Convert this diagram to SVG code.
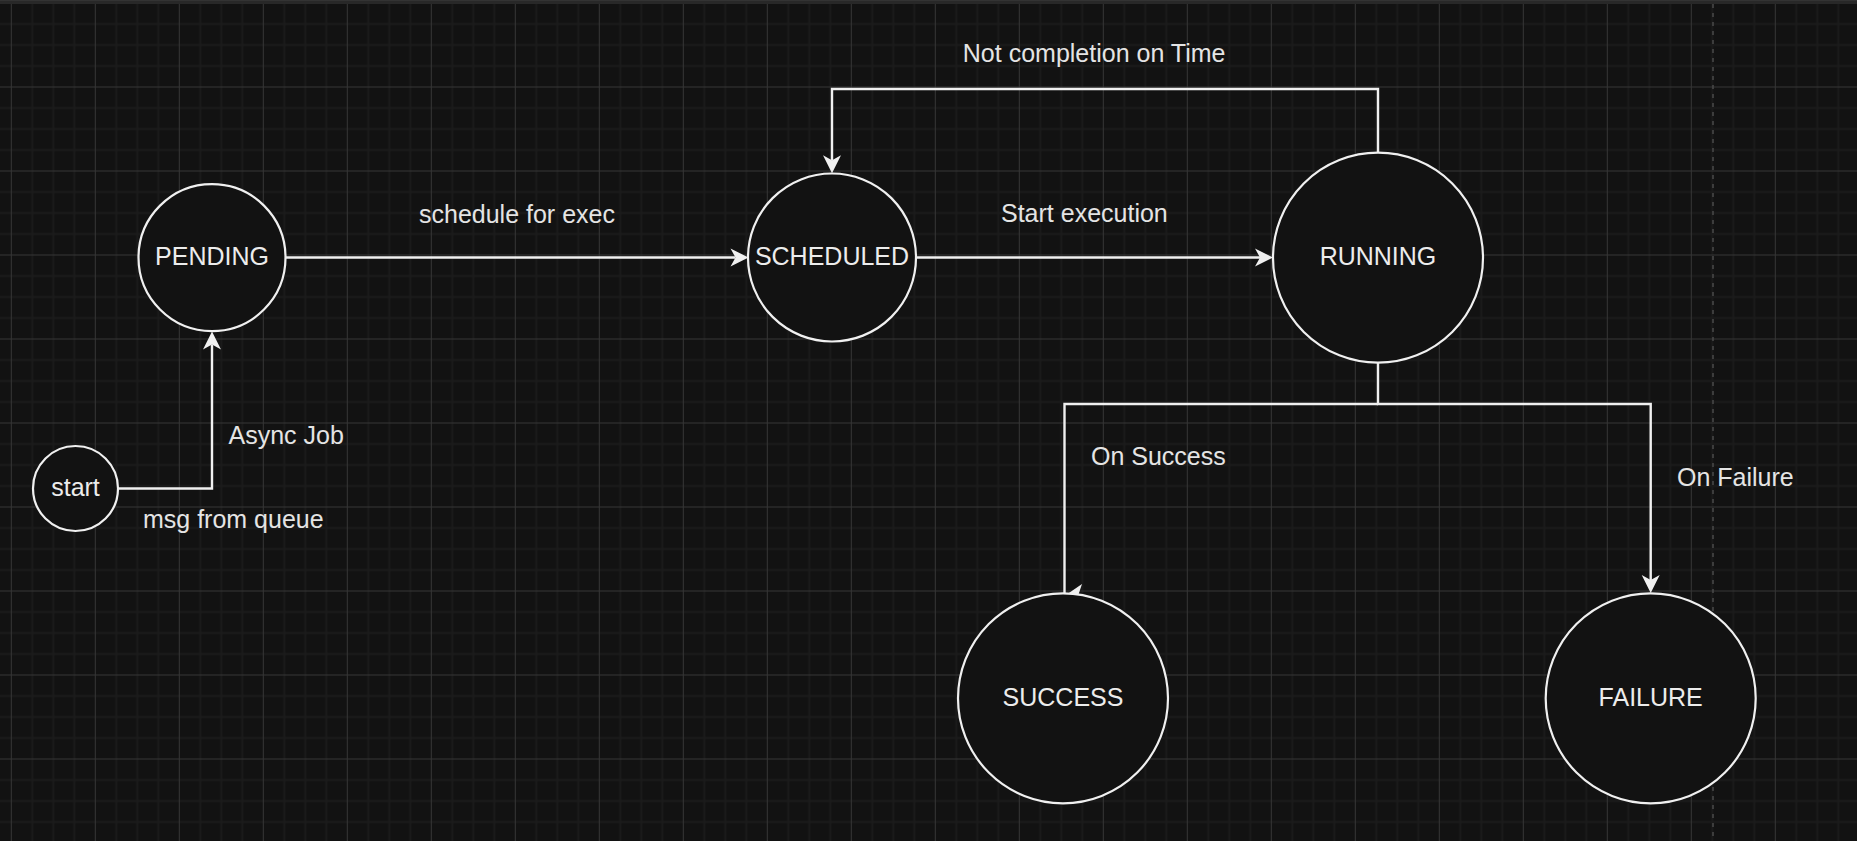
<svg xmlns="http://www.w3.org/2000/svg" width="1857" height="841" viewBox="0 0 1857 841">
  <style>
    .node { fill: #121212; stroke: #f0f0f0; stroke-width: 2.2; }
    .conn { fill: none; stroke: #f0f0f0; stroke-width: 2.4; }
    .lbl { font-family: "Liberation Sans", Arial, sans-serif; font-size: 25px; fill: #e4e4e4; }
    .ntxt { font-family: "Liberation Sans", Arial, sans-serif; font-size: 25px; fill: #ececec; text-anchor: middle; }
  </style>
  <defs>
    <pattern id="grid" patternUnits="userSpaceOnUse" x="10.8" y="2.5" width="84" height="84">
      <path d="M21.5 0V84M42.5 0V84M63.5 0V84M0 21.5H84M0 42.5H84M0 63.5H84" stroke="#1b1b1b" stroke-width="1.8" fill="none"/>
      <path d="M0.5 0V84M0 0.5H84" stroke="#363636" stroke-width="1" fill="none"/>
    </pattern>
    <marker id="arrow" markerUnits="userSpaceOnUse" viewBox="-20 -10 40 20" markerWidth="40" markerHeight="20" refX="-13" refY="0" orient="auto">
      <path d="M0,0 L-18,-9 L-13,0 L-18,9 Z" fill="#f0f0f0"/>
    </marker>
  </defs>

  <rect x="0" y="0" width="1857" height="841" fill="#121212"/>
  <rect x="0" y="0" width="1857" height="841" fill="url(#grid)"/>
  <rect x="0" y="0" width="1857" height="4" fill="#282828"/>
  <line x1="0" y1="0.5" x2="1857" y2="0.5" stroke="#333" stroke-width="1"/>
  <line x1="1713" y1="4" x2="1713" y2="841" stroke="#4a4a4a" stroke-width="1.5" stroke-dasharray="4 5"/>

  <g id="connectors">
    <path class="conn" d="M118 488.5H212V344.4" marker-end="url(#arrow)"/>
    <path class="conn" d="M285.5 257.5H735.5" marker-end="url(#arrow)"/>
    <path class="conn" d="M916 257.5H1260" marker-end="url(#arrow)"/>
    <path class="conn" d="M1378 152.7V89H832V160.3" marker-end="url(#arrow)"/>
    <path class="conn" d="M1378 362.7V404H1650.7V580" marker-end="url(#arrow)"/>
    <path class="conn" d="M1378 404H1064.5V596"/>
    <polygon points="1064.5,596 1082,584 1078,596" fill="#f0f0f0"/>
  </g>

  <g id="labels">
    <text class="lbl" x="228.5" y="444">Async Job</text>
    <text class="lbl" x="143" y="527.7">msg from queue</text>
    <text class="lbl" x="419" y="223.2">schedule for exec</text>
    <text class="lbl" x="962.8" y="61.7">Not completion on Time</text>
    <text class="lbl" x="1001" y="222.3">Start execution</text>
    <text class="lbl" x="1091" y="464.7">On Success</text>
    <text class="lbl" x="1677" y="486">On Failure</text>
  </g>

  <g id="node-start">
    <circle class="node" cx="75.5" cy="488.5" r="42.5"/>
    <text class="ntxt" x="75.5" y="496">start</text>
  </g>
  <g id="node-pending">
    <circle class="node" cx="212" cy="257.6" r="73.5"/>
    <text class="ntxt" x="212" y="264.6">PENDING</text>
  </g>
  <g id="node-scheduled">
    <circle class="node" cx="832" cy="257.5" r="84"/>
    <text class="ntxt" x="832" y="265">SCHEDULED</text>
  </g>
  <g id="node-running">
    <circle class="node" cx="1378" cy="257.7" r="105"/>
    <text class="ntxt" x="1378" y="265">RUNNING</text>
  </g>
  <g id="node-success">
    <circle class="node" cx="1063" cy="698.3" r="105"/>
    <text class="ntxt" x="1063" y="705.7">SUCCESS</text>
  </g>
  <g id="node-failure">
    <circle class="node" cx="1650.7" cy="698.3" r="105"/>
    <text class="ntxt" x="1650.7" y="705.7">FAILURE</text>
  </g>
</svg>
